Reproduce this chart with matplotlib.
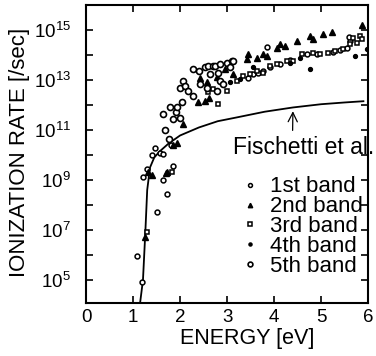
import numpy as np
from matplotlib import pyplot as plt

plt.rcParams['font.family'] = ['Liberation Sans', 'DejaVu Sans']
plt.rcParams['mathtext.default'] = 'regular'

# =============================================================================
# Data (energy in eV, log10 of the rate)
# =============================================================================
fis_e = [1.15, 1.21, 1.26, 1.30, 1.36, 1.45, 1.57, 1.75, 2.0, 2.4, 2.8, 3.2, 3.8, 4.4, 5.0, 5.5, 5.9]
fis_log = [4.1, 5.0, 6.9, 8.6, 9.5, 9.9, 10.15, 10.45, 10.78, 11.1, 11.35, 11.5, 11.73, 11.9, 12.03, 12.1, 12.15]

b1_e = [1.08, 1.19, 1.51, 1.72, 1.64, 1.21, 1.30, 1.85, 1.47, 1.40, 1.57, 1.64, 1.81,
        3.45, 3.55, 3.66, 3.77, 3.91, 4.13, 4.34, 4.70, 4.91, 5.26, 5.40, 5.55, 5.62, 3.85, 5.60]
b1_log = [5.96, 4.92, 7.71, 8.43, 8.98, 9.1, 9.42, 9.54, 10.26, 9.98, 10.06, 10.02, 10.38,
          13.09, 13.25, 13.29, 13.37, 13.5, 13.65, 13.8, 14.04, 14.04, 14.12, 14.2, 14.28, 14.56, 14.32, 14.7]

b2_e = [1.26, 1.32, 1.40, 1.72, 1.70, 1.85, 1.94, 2.06, 2.38, 2.53, 2.62, 2.43, 2.57, 2.79, 2.96,
        3.13, 3.43, 3.45, 3.64, 3.77, 3.85, 4.06, 4.13, 4.23, 4.49, 4.77, 4.83, 5.04, 5.23, 5.87]
b2_log = [6.71, 9.3, 9.18, 9.3, 9.26, 10.38, 10.46, 11.25, 12.1, 12.17, 12.29, 13.09, 12.9, 13.1, 13.45,
          13.25, 13.84, 14.04, 13.88, 14.04, 13.96, 14.28, 14.44, 14.36, 14.56, 14.76, 14.64, 14.84, 14.92, 15.2]

b3_e = [1.30, 1.83, 2.60, 2.70, 2.81, 3.0, 3.21, 3.34, 3.49, 3.64, 3.77, 3.91, 4.06, 4.28, 4.40,
        4.60, 4.83, 4.98, 5.15, 5.30, 5.47, 5.62, 5.68, 5.77, 5.83, 5.87]
b3_log = [6.9, 9.3, 12.5, 12.65, 12.05, 12.57, 12.97, 13.17, 13.25, 13.37, 13.29, 13.57, 13.65, 13.76, 13.76,
          14.04, 14.08, 14.04, 14.08, 14.16, 14.24, 14.44, 14.68, 14.48, 14.76, 14.64]

b4_e = [3.06, 3.28, 3.55, 4.34, 4.55, 4.77, 5.72, 5.98]
b4_log = [12.9, 13.05, 13.5, 13.69, 13.88, 13.45, 13.96, 14.24]

b5_e = [1.68, 1.77, 1.64, 1.79, 1.85, 1.91, 1.93, 2.0, 2.0, 2.03, 2.07, 2.1, 2.17, 2.27, 2.27, 2.41,
        2.43, 2.53, 2.57, 2.60, 2.64, 2.70, 2.74, 2.79, 2.81, 2.85, 2.85, 2.91, 3.0, 3.06, 3.10, 3.13]
b5_log = [11.0, 10.65, 11.65, 11.93, 11.45, 11.7, 11.9, 11.49, 12.69, 12.1, 12.97, 12.77, 12.57, 12.37, 13.45, 13.37,
          12.85, 13.5, 12.69, 13.57, 13.25, 13.57, 13.57, 12.57, 13.29, 12.97, 13.65, 12.85, 13.69, 13.5, 13.76, 13.76]

labels = ['1st band', '2nd band', '3rd band', '4th band', '5th band']


def pw(v):
    return 10.0 ** np.array(v)


# =============================================================================
# Plot
# =============================================================================
fig = plt.figure(figsize=(3.76, 3.56), dpi=100)
ax = fig.add_axes([0.229, 0.149, 0.750, 0.837])

ax.plot(fis_e, pw(fis_log), color='black', lw=1.3)
ax.plot(b1_e, pw(b1_log), 'o', ms=3.5, mfc='white', mec='black', mew=1.1, ls='none', label=labels[0])
ax.plot(b2_e, pw(b2_log), '^', ms=4, color='black', ls='none', label=labels[1])
ax.plot(b3_e, pw(b3_log), 's', ms=3.5, mfc='white', mec='black', mew=1.1, ls='none', label=labels[2])
ax.plot(b4_e, pw(b4_log), 'o', ms=2.8, color='black', ls='none', label=labels[3])
ax.plot(b5_e, pw(b5_log), 'o', ms=4.3, mfc='white', mec='black', mew=1.2, ls='none', label=labels[4])

ax.set_yscale('log')
ax.set_xlim(0, 6)
ax.set_ylim(1.2e4, 1e16)
ax.set_xticks(range(7))
ax.set_yticks([10.0 ** k for k in range(5, 16)])
ax.set_yticklabels(['$10^{%d}$' % k if k % 2 == 1 else '' for k in range(5, 16)])
ax.minorticks_off()
ax.tick_params(direction='in', top=True, right=True, length=5, width=1.2, labelsize=13.5)
ax.tick_params(axis='y', pad=11)
ax.tick_params(axis='x', pad=4)
for s in ax.spines.values():
    s.set_linewidth(1.5)

ax.set_xlabel('ENERGY [eV]', fontsize=15.5)
ax.xaxis.set_label_coords(0.57, -0.085)
ax.set_ylabel('IONIZATION RATE [/sec]', fontsize=16)
ax.yaxis.set_label_coords(-0.2, 0.505)

ax.annotate('Fischetti et al.', xy=(4.4, 10 ** 11.75), xytext=(3.13, 10 ** 10.3),
            fontsize=16.5, va='center', ha='left', annotation_clip=False,
            arrowprops=dict(arrowstyle='->', color='black', lw=0.9,
                            relpos=(0.42, 1.0), shrinkA=2, shrinkB=0))

ax.legend(loc='lower right', bbox_to_anchor=(1.02, 0.05), frameon=False, fontsize=16,
          handlelength=0.6, handletextpad=0.6, labelspacing=-0.05, borderpad=0, markerscale=0.8)

plt.savefig('out.png', dpi=100)
